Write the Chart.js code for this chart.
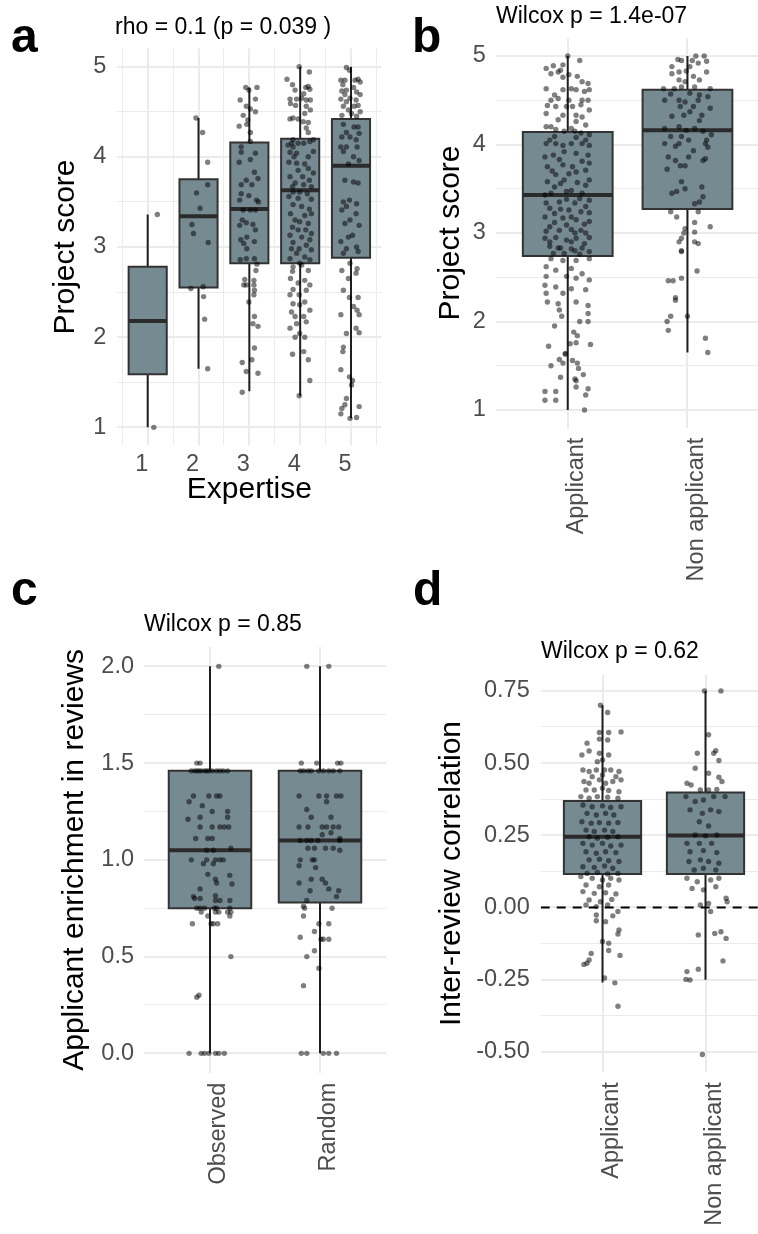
<!DOCTYPE html>
<html>
<head>
<meta charset="utf-8">
<title>Project score panels</title>
<script src="https://cdn.jsdelivr.net/npm/chart.js@4.4.1/dist/chart.umd.min.js"></script>
<style>
  html, body { margin: 0; padding: 0; background: #fff; overflow: hidden; }
  body { position: relative; width: 758px; height: 1234px; font-family: 'Liberation Sans', Arial, sans-serif; }
  canvas { position: absolute; }
  .tag { position: absolute; font-size: 48px; line-height: 48px; font-weight: bold; color: #000; }
  .note { position: absolute; font-size: 23px; line-height: 23px; color: #000; white-space: nowrap; }
</style>
</head>
<body>
<canvas id="panelA" width="390" height="520" style="left:0;top:0"></canvas>
<canvas id="panelB" width="372" height="600" style="left:390px;top:0"></canvas>
<canvas id="panelC" width="390" height="654" style="left:0;top:580px"></canvas>
<canvas id="panelD" width="380" height="654" style="left:390px;top:580px"></canvas>

<div class="tag" style="left:11px;top:12px">a</div>
<div class="tag" style="left:412px;top:12px">b</div>
<div class="tag" style="left:11px;top:565px">c</div>
<div class="tag" style="left:413px;top:565px">d</div>

<div class="note" style="left:115px;top:15px">rho = 0.1 (p = 0.039 )</div>
<div class="note" style="left:496px;top:3.5px">Wilcox p = 1.4e-07</div>
<div class="note" style="left:144px;top:612px">Wilcox p = 0.85</div>
<div class="note" style="left:541px;top:639px">Wilcox p = 0.62</div>

<script>
// ---- panel a : project score by expertise ----
const expertise = [1, 2, 3, 4, 5];
const expertiseLabels = ['1', '2', '3', '4', '5'];
const expertiseMinor = [0.5, 1.5, 2.5, 3.5, 4.5, 5.5];
const scoreTicks = [1, 2, 3, 4, 5];
const scoreTickLabels = ['1', '2', '3', '4', '5'];
const scoreMinor = [1.5, 2.5, 3.5, 4.5];

const aLow = [1.00, 1.65, 1.40, 1.35, 1.10];
const aQ1 = [1.59, 2.55, 2.82, 2.82, 2.88];
const aMedian = [2.18, 3.34, 3.42, 3.63, 3.90];
const aQ3 = [2.78, 3.75, 4.16, 4.20, 4.42];
const aHigh = [3.36, 4.43, 4.77, 5.00, 5.00];

// [jitter, score]
const aPoints = [
  [[0.19,3.36],[0.12,1.00]],
  [[0.08,4.27],[0.18,3.94],[-0.04,3.60],[0.18,3.69],[0.03,3.43],[-0.13,3.25],[-0.10,3.15],[0.19,3.05],[-0.15,2.54],[0.09,2.56],[0.10,2.45],[0.12,2.20],[0.18,1.65],[-0.05,4.43]],
  [[-0.07,4.77],[0.15,4.77],[-0.01,4.74],[-0.18,4.63],[0.12,4.64],[-0.06,4.56],[-0.12,4.46],[0.12,4.50],[0.02,4.53],[-0.03,4.41],[-0.20,4.34],[-0.05,4.36],[0.02,4.27],[0.02,4.17],[-0.16,4.11],[-0.16,4.05],[0.12,4.04],[-0.20,3.94],[0.02,3.97],[0.10,3.83],[-0.06,3.74],[-0.16,3.69],[0.05,3.69],[0.17,3.76],[-0.16,3.59],[-0.19,3.52],[-0.01,3.57],[0.14,3.52],[0.18,3.50],[-0.12,3.41],[0.02,3.41],[0.12,3.41],[-0.14,3.30],[-0.19,3.24],[-0.06,3.27],[0.07,3.25],[0.12,3.19],[-0.17,3.08],[-0.05,3.11],[0.10,3.06],[-0.11,3.04],[-0.05,2.98],[-0.18,2.86],[-0.06,2.87],[0.10,2.87],[0.15,2.81],[0.13,2.74],[-0.09,2.64],[0.09,2.63],[-0.11,2.58],[0.09,2.58],[-0.06,2.58],[0.10,2.52],[0.09,2.47],[-0.01,2.39],[0.10,2.23],[0.07,2.15],[0.17,2.12],[0.10,1.88],[-0.14,1.72],[0.05,1.75],[-0.06,1.62],[0.17,1.60],[-0.14,1.39]],
  [[-0.02,5.00],[0.18,4.94],[-0.26,4.86],[-0.15,4.80],[0.11,4.77],[0.16,4.78],[-0.10,4.74],[0.07,4.70],[0.19,4.75],[-0.20,4.64],[-0.07,4.64],[0.03,4.65],[0.12,4.63],[0.20,4.63],[-0.19,4.59],[-0.09,4.57],[0.12,4.56],[0.09,4.48],[0.20,4.52],[-0.14,4.43],[-0.04,4.42],[-0.20,4.42],[0.06,4.39],[0.16,4.38],[0.12,4.32],[0.16,4.27],[-0.14,4.19],[-0.17,4.15],[-0.04,4.15],[0.07,4.15],[0.19,4.17],[0.26,4.19],[-0.24,4.13],[-0.14,4.11],[-0.20,4.05],[-0.07,4.04],[0.26,4.06],[0.16,4.00],[-0.12,4.00],[-0.22,3.94],[-0.07,3.93],[0.09,3.92],[0.16,3.87],[-0.04,3.85],[0.26,3.82],[-0.20,3.78],[0.05,3.78],[0.18,3.74],[-0.10,3.71],[-0.15,3.67],[0.07,3.69],[0.22,3.67],[-0.14,3.61],[-0.01,3.61],[0.14,3.59],[-0.22,3.56],[-0.04,3.54],[0.22,3.53],[-0.14,3.47],[0.03,3.45],[0.18,3.42],[-0.19,3.37],[0.09,3.35],[0.22,3.37],[-0.10,3.30],[-0.01,3.28],[0.16,3.26],[-0.15,3.22],[-0.04,3.19],[0.11,3.19],[0.22,3.15],[-0.20,3.13],[0.03,3.11],[0.19,3.08],[-0.14,3.05],[0.12,3.02],[-0.02,2.98],[-0.17,2.98],[0.22,2.97],[-0.07,2.93],[0.09,2.89],[-0.20,2.87],[0.19,2.86],[-0.01,2.82],[-0.14,2.78],[0.03,2.80],[-0.15,2.73],[0.16,2.74],[-0.19,2.65],[0.09,2.63],[-0.04,2.60],[0.19,2.58],[-0.14,2.53],[0.12,2.52],[-0.20,2.47],[-0.02,2.47],[-0.14,2.37],[0.09,2.39],[-0.01,2.36],[-0.17,2.28],[0.19,2.30],[-0.10,2.23],[0.07,2.23],[-0.07,2.15],[0.12,2.17],[-0.20,2.10],[-0.01,2.04],[0.09,2.00],[-0.10,2.00],[-0.15,1.81],[0.07,1.84],[0.16,1.75],[0.19,1.52],[-0.02,1.35]],
  [[-0.09,4.99],[-0.03,4.96],[-0.20,4.85],[-0.12,4.85],[0.08,4.85],[0.18,4.83],[0.14,4.86],[-0.16,4.80],[0.05,4.77],[-0.09,4.74],[-0.18,4.73],[0.11,4.72],[-0.12,4.69],[0.18,4.69],[-0.02,4.65],[-0.20,4.64],[0.10,4.63],[-0.09,4.61],[0.14,4.57],[-0.15,4.56],[0.06,4.56],[-0.05,4.52],[0.18,4.50],[0.01,4.48],[-0.18,4.46],[0.11,4.45],[-0.15,4.36],[0.06,4.33],[0.14,4.33],[-0.09,4.27],[0.16,4.26],[-0.18,4.22],[-0.02,4.22],[0.10,4.19],[-0.20,4.11],[-0.09,4.11],[0.12,4.11],[-0.15,4.06],[0.05,4.00],[0.16,3.96],[-0.05,3.92],[-0.12,3.74],[0.05,3.72],[0.14,3.71],[-0.15,3.50],[-0.03,3.52],[0.11,3.48],[-0.09,3.45],[0.10,3.37],[-0.18,3.41],[-0.02,3.30],[-0.12,3.26],[0.16,3.24],[-0.05,3.11],[0.03,3.13],[-0.20,3.06],[0.11,3.00],[-0.09,2.98],[0.14,2.95],[-0.15,2.93],[-0.02,2.82],[0.12,2.76],[-0.18,2.74],[0.10,2.71],[-0.05,2.65],[-0.15,2.52],[-0.03,2.44],[0.14,2.44],[0.05,2.34],[0.12,2.30],[0.16,2.25],[-0.20,2.25],[0.10,2.10],[-0.09,2.04],[0.16,2.05],[-0.15,1.89],[-0.16,1.84],[-0.20,1.64],[-0.03,1.56],[0.03,1.52],[0.01,1.47],[-0.09,1.32],[-0.12,1.25],[-0.18,1.21],[-0.20,1.15],[0.16,1.23],[-0.02,1.10],[0.11,1.11]]
];

// ---- panel b : project score, applicants vs non applicants ----
const groups = [1, 2];
const groupLabels = ['Applicant', 'Non applicant'];
const bLow = [1.00, 1.65];
const bQ1 = [2.74, 3.27];
const bMedian = [3.43, 4.16];
const bQ3 = [4.14, 4.62];
const bHigh = [5.00, 5.00];
const bPoints = [
  [[-0.18,4.86],[-0.12,4.89],[-0.04,4.90],[0.10,4.95],[0,5.00],[-0.08,4.82],[0.01,4.79],[0.08,4.77],[-0.14,4.80],[-0.06,4.84],[-0.04,4.76],[0.17,4.69],[0.12,4.71],[0.18,4.62],[0.03,4.63],[-0.18,4.63],[-0.11,4.56],[-0.08,4.52],[-0.04,4.62],[0.07,4.62],[0.12,4.50],[0.17,4.50],[0.14,4.60],[-0.17,4.44],[-0.10,4.43],[-0.01,4.43],[0.04,4.43],[0.11,4.45],[0.18,4.39],[-0.04,4.33],[0.07,4.33],[0.12,4.31],[0.15,4.22],[-0.18,4.20],[-0.14,4.20],[0.03,4.18],[-0.03,4.15],[0.11,4.13],[0.18,4.11],
   [-0.14,4.50],[0.01,4.50],[-0.18,4.35],[-0.08,4.28],[0.07,4.26],[-0.10,4.17],[0.06,4.15],
   [-0.18,4.01],[-0.10,4.01],[-0.04,3.99],[0.03,4.01],[0.12,4.01],[0.18,3.99],[-0.12,3.88],[-0.03,3.92],[0.07,3.90],[0.17,3.88],[-0.17,3.75],[-0.04,3.77],[0.04,3.75],[0.15,3.71],[-0.10,3.66],[0.01,3.67],[-0.17,3.58],[-0.06,3.56],[0.08,3.57],[0.18,3.60],[-0.14,3.45],[-0.01,3.47],[0.12,3.45],[0.18,3.37],[-0.18,3.34],[-0.07,3.35],[0.06,3.34],[0.15,3.30],[-0.11,3.22],[0.01,3.26],[0.11,3.24],[-0.19,3.18],[-0.04,3.17],[0.07,3.15],[0.18,3.13],[-0.15,3.07],[-0.07,3.03],[0.03,3.04],[0.11,3.03],[-0.19,2.94],[-0.10,2.95],[-0.01,2.92],[0.07,2.94],[0.18,2.95],[-0.15,2.85],[-0.06,2.83],[0.03,2.82],[0.12,2.83],[-0.12,2.77],[-0.03,2.77],[0.10,2.76],[0.18,2.79],
   [-0.15,4.05],[-0.11,4.09],[0.07,4.08],[0.15,4.05],[-0.19,3.86],[-0.07,3.83],[0.12,3.81],[0.18,3.79],[-0.13,3.70],[0.07,3.69],[-0.03,3.60],[0.15,3.54],[-0.11,3.52],[0.03,3.48],[-0.19,3.43],[0.10,3.39],[-0.01,3.38],[-0.15,3.28],[-0.06,3.27],[0.18,3.23],[0.03,3.18],[-0.11,3.12],[0.14,3.10],[-0.01,3.09],[-0.18,3.02],[0.06,3.00],[0.15,3.00],[-0.15,2.90],[0.03,2.90],[0.14,2.88],[-0.08,2.83],[0.06,2.80],
   [-0.14,2.71],[-0.04,2.69],[0.07,2.69],[0.18,2.71],[-0.18,2.62],[0.03,2.60],[-0.10,2.58],[0.12,2.54],[-0.18,2.51],[-0.01,2.51],[0.07,2.49],[0.18,2.47],[-0.19,2.41],[-0.10,2.39],[0.03,2.37],[0.15,2.36],[-0.04,2.32],[-0.18,2.32],
   [-0.17,2.22],[-0.08,2.20],[0.07,2.22],[-0.07,2.13],[0.17,2.18],[0.17,2.09],[-0.05,2.06],[0.17,2.00],[0.10,2.00],[-0.11,1.95],[0.05,1.88],[0.08,1.84],[-0.16,1.72],[0.02,1.75],[0.07,1.76],[0.19,1.74],[-0.02,1.64],[-0.07,1.57],[0.04,1.56],[0.08,1.53],[-0.14,1.50],[-0.04,1.53],[0.09,1.47],[-0.02,1.63],[-0.06,1.37],[0.06,1.35],[0.07,1.33],[0.13,1.40],[0.07,1.26],[-0.19,1.21],[-0.10,1.21],[0.17,1.24],[-0.19,1.11],[-0.10,1.11],[0.15,1.17],[0.14,1.00]],
  [[0.07,5.00],[0.14,5.00],[-0.08,4.96],[-0.05,4.95],[0.04,4.95],[-0.13,4.88],[0.02,4.88],[0.09,4.92],[0.16,4.94],[-0.07,4.82],[-0.01,4.83],[-0.13,4.80],[0.16,4.82],[0.05,4.77],[-0.07,4.73],[-0.02,4.71],[0.10,4.73],[-0.20,4.63],[-0.11,4.63],[-0.05,4.65],[0.06,4.65],[0.19,4.63],[-0.14,4.57],[0.02,4.58],[0.10,4.56],[0.17,4.54],
   [-0.19,4.50],[-0.07,4.50],[-0.02,4.48],[0.09,4.50],[-0.06,4.43],[0.05,4.43],[0.02,4.37],[-0.13,4.32],[-0.03,4.33],[0.12,4.33],[0.19,4.41],[0.10,4.27],[-0.19,4.18],[-0.07,4.20],[-0.01,4.16],[0.06,4.18],[0.13,4.15],[-0.14,4.09],[-0.05,4.09],[0.20,4.11],[0.01,4.05],[0.16,4.05],[-0.19,4.01],[-0.07,4.01],[0.15,4.01],[-0.10,3.98],[0.17,3.97],[0.05,3.93],[-0.16,3.86],[0.01,3.86],[-0.10,3.82],[0.13,3.82],[-0.17,3.72],[-0.06,3.76],[-0.02,3.76],[0.15,3.84],[-0.05,3.58],[0.12,3.52],[-0.13,3.45],[-0.09,3.47],[-0.02,3.50],[0.13,3.41],[0.10,3.35],[0.06,3.33],
   [-0.14,3.24],[0.09,3.24],[-0.09,3.18],[0.06,3.12],[-0.02,3.05],[0.19,3.07],[-0.03,3.00],[0.06,3.01],[-0.05,2.94],[-0.07,2.90],[0.06,2.90],[-0.05,2.79],[0.09,2.88],[-0.05,2.80],[0.08,2.57],[-0.05,2.49],[-0.16,2.46],[-0.12,2.46],[-0.10,2.24],[-0.10,2.27],[-0.14,2.06],[-0.17,2.00],[-0.16,1.90],[0,2.06],[0.15,1.81],[0.17,1.65]]
];

// ---- panel c : applicant enrichment in reviews ----
const samples = [1, 2];
const sampleLabels = ['Observed', 'Random'];
const enrichTicks = [0, 0.5, 1, 1.5, 2];
const enrichTickLabels = ['0.0', '0.5', '1.0', '1.5', '2.0'];
const enrichMinor = [0.25, 0.75, 1.25, 1.75];
const cLow = [0.00, 0.00];
const cQ1 = [0.75, 0.78];
const cMedian = [1.05, 1.10];
const cQ3 = [1.46, 1.46];
const cHigh = [2.00, 2.00];
const cPoints = [
  [[0.08,2.00],[-0.12,1.50],[-0.09,1.50],[-0.17,1.46],[-0.14,1.46],[-0.12,1.46],[-0.10,1.46],[-0.08,1.46],[-0.05,1.46],[-0.03,1.46],[-0.01,1.46],[0.02,1.46],[0.06,1.46],[0.09,1.46],[0.12,1.46],[0.16,1.46],
   [-0.15,1.33],[-0.01,1.33],[0.06,1.33],[0.09,1.33],[-0.19,1.30],[-0.07,1.28],[0.02,1.25],[0.16,1.25],[-0.20,1.21],[-0.09,1.22],[0.16,1.22],[-0.09,1.17],[0.02,1.17],[0.09,1.17],[0.13,1.17],[0.17,1.17],[-0.13,1.11],[-0.02,1.11],[0.02,1.11],[-0.03,1.05],[0.03,1.05],[0.19,1.06],
   [-0.17,1.00],[-0.03,1.00],[0.05,1.00],[0.09,1.00],[0.12,1.00],[-0.06,0.98],[0.03,0.98],[0.18,0.92],[-0.02,0.925],[-0.09,0.85],[0.05,0.90],[0.06,0.88],[0.20,0.875],[-0.15,0.81],[0.05,0.815],[-0.14,0.80],[-0.09,0.80],[0.05,0.79],[0.09,0.79],[0.18,0.79],
   [-0.12,0.75],[-0.09,0.75],[-0.05,0.75],[0.04,0.75],[0.06,0.75],[0.18,0.75],[-0.08,0.73],[0.05,0.73],[0.08,0.73],[0.16,0.73],[0.19,0.73],[-0.02,0.71],[0.18,0.71],[-0.16,0.67],[0.01,0.67],[0.03,0.67],[0.07,0.67],[0.19,0.50],[-0.12,0.29],[-0.10,0.30],
   [-0.19,0],[-0.08,0],[-0.05,0],[-0.01,0],[0.05,0],[0.08,0],[0.13,0]],
  [[-0.12,2.00],[0.08,2.00],[-0.17,1.50],[-0.03,1.50],[0.16,1.50],[0.19,1.50],[-0.18,1.46],[-0.15,1.46],[-0.11,1.46],[-0.08,1.46],[-0.01,1.46],[0.03,1.46],[0.08,1.46],[0.12,1.46],[0.18,1.46],
   [-0.19,1.33],[-0.01,1.33],[0.06,1.33],[0.15,1.33],[0.19,1.33],[0.06,1.30],[-0.12,1.26],[-0.08,1.22],[0.10,1.22],[-0.19,1.17],[-0.11,1.17],[0.02,1.17],[0.06,1.17],[0.12,1.17],[0.17,1.17],[0.02,1.13],[0.10,1.14],[0.18,1.11],
   [-0.18,1.10],[-0.12,1.10],[-0.08,1.10],[-0.02,1.10],[0.18,1.10],[-0.11,1.06],[-0.05,1.06],[0.05,1.06],[0.12,1.06],[0.18,1.05],[-0.18,1.00],[-0.07,1.00],[-0.05,1.00],[-0.19,0.97],[-0.04,0.96],
   [-0.19,0.88],[-0.08,0.90],[0.02,0.90],[0.05,0.88],[-0.09,0.84],[0.08,0.85],[0.17,0.84],[0.15,0.81],[-0.12,0.79],[-0.15,0.76],[-0.14,0.75],[0.11,0.75],
   [-0.15,0.71],[-0.01,0.67],[0.08,0.67],[-0.05,0.63],[-0.18,0.60],[0.01,0.59],[0.03,0.59],[0.08,0.59],[-0.05,0.53],[-0.12,0.50],[-0.01,0.44],[-0.15,0.35],
   [-0.17,0],[-0.12,0],[0.03,0],[0.08,0],[0.15,0]]
];

// ---- panel d : inter-review correlation ----
const corrTicks = [-0.5, -0.25, 0, 0.25, 0.5, 0.75];
const corrTickLabels = ['-0.50', '-0.25', '0.00', '0.25', '0.50', '0.75'];
const corrMinor = [-0.375, -0.125, 0.125, 0.375, 0.625];
const corrReference = 0;
const dLow = [-0.26, -0.25];
const dQ1 = [0.116, 0.116];
const dMedian = [0.245, 0.249];
const dQ3 = [0.369, 0.398];
const dHigh = [0.70, 0.75];
const dPoints = [
  [[-0.02,0.70],[0.05,0.675],[-0.03,0.606],[0.06,0.606],[-0.03,0.583],[0.05,0.58],[0.18,0.608],[-0.15,0.569],[-0.20,0.528],[-0.13,0.542],[-0.03,0.534],[0.06,0.528],[0,0.511],[-0.05,0.505],[-0.19,0.476],[-0.13,0.471],[-0.06,0.476],[0.02,0.476],[0.08,0.476],[0.16,0.471],[-0.10,0.453],[0,0.459],[0.13,0.453],[-0.18,0.436],[-0.13,0.43],[-0.03,0.442],[0.03,0.43],[0.10,0.436],[0.18,0.442],
   [-0.16,0.407],[-0.08,0.407],[0,0.413],[0.06,0.405],[0.16,0.401],[-0.21,0.384],[-0.13,0.378],[-0.05,0.384],[0.05,0.382],[0.15,0.378],[-0.19,0.355],[-0.10,0.349],[0,0.352],[0.08,0.346],[0.18,0.349],[-0.15,0.326],[-0.06,0.32],[0.03,0.326],[0.11,0.32],[-0.20,0.297],[-0.11,0.292],[-0.03,0.294],[0.06,0.292],[0.15,0.294],[-0.16,0.268],[-0.08,0.263],[0.02,0.268],[0.10,0.263],[-0.13,0.245],[-0.05,0.24],[0.05,0.243],[0.15,0.245],[-0.19,0.222],[-0.10,0.216],[0,0.222],[0.08,0.213],[0.18,0.216],[-0.16,0.193],[-0.06,0.188],[0.03,0.193],[0.13,0.19],[-0.13,0.165],[-0.03,0.167],[0.06,0.162],[0.16,0.159],[-0.19,0.141],[-0.08,0.139],[0.02,0.144],[0.10,0.136],[-0.15,0.118],[-0.05,0.121],[0.05,0.116],[0.15,0.118],
   [-0.21,0.107],[-0.10,0.101],[0,0.095],[0.08,0.101],[0.16,0.095],[-0.16,0.078],[-0.03,0.072],[0.06,0.078],[-0.19,0.055],[-0.08,0.049],[0.03,0.051],[0.13,0.047],[-0.13,0.026],[-0.02,0.02],[0.09,0.028],[-0.16,0.009],[-0.06,0.003],[0.05,0.009],
   [-0.06,-0.026],[0.03,-0.049],[0.10,-0.029],[0.15,-0.014],[-0.06,-0.046],[0.16,-0.078],[0.15,-0.092],[0,-0.118],[0.06,-0.124],[0.06,-0.149],[-0.11,-0.159],[-0.13,-0.182],[-0.18,-0.197],[-0.15,-0.193],[0.17,-0.166],[0.02,-0.244],[0.12,-0.261],[0.15,-0.342]],
  [[-0.01,0.75],[0.15,0.75],[0.03,0.598],[-0.08,0.534],[0.08,0.534],[0.10,0.543],[0.13,0.509],[-0.10,0.482],[0.03,0.465],[0.13,0.451],[-0.18,0.43],[-0.14,0.424],[-0.05,0.407],[0.03,0.407],[0.11,0.409],[0.16,0.436],
   [-0.19,0.384],[-0.10,0.367],[-0.02,0.372],[0.08,0.384],[0.19,0.384],[-0.15,0.338],[-0.03,0.326],[0.05,0.338],[0.13,0.332],[-0.06,0.297],[0.03,0.282],[-0.10,0.251],[0,0.248],[0.11,0.251],[-0.18,0.222],[-0.06,0.222],[0.06,0.222],[-0.15,0.193],[-0.02,0.197],[0.11,0.19],[-0.16,0.159],[-0.05,0.165],[0.03,0.159],[0.13,0.153],[-0.11,0.13],[-0.02,0.136],[0.10,0.13],
   [-0.18,0.101],[-0.08,0.089],[0.05,0.095],[0.13,0.101],[-0.13,0.066],[-0.02,0.061],[0.10,0.072],[0.20,0.032],[0.21,0.02],[0.03,0.014],[-0.05,0.009],
   [0.05,-0.014],[-0.07,-0.095],[0.09,-0.09],[0.15,-0.084],[0.20,-0.107],[0.17,-0.185],[-0.07,-0.214],[-0.18,-0.222],[-0.19,-0.249],[-0.15,-0.251],[-0.03,-0.509]]
];

// ---- styling ----
Chart.defaults.font.family = "'Liberation Sans', Arial, sans-serif";
const TICK_COLOR = '#4d4d4d';
const TICK_SIZE = 23.5;
const GRID_COLOR = '#ebebeb';
const BOX_FILL = '#768a92';
const BOX_LINE = '#333333';
const MEDIAN_LINE = '#2b2b2b';
const WHISKER = '#1f1f1f';
const DOT = 'rgba(0,0,0,0.5)';
const BOX_HALF = 0.375;

const labelFor = (values, labels, v) => {
  const k = values.findIndex(t => Math.abs(t - v) < 1e-9);
  return k < 0 ? '' : labels[k];
};

function axis(o) {
  const all = o.major.concat(o.minor).sort((p, q) => p - q);
  return {
    type: 'linear',
    min: o.min,
    max: o.max,
    afterBuildTicks: s => { s.ticks = all.map(v => ({ value: v })); },
    afterFit: s => { if (o.width) s.width = o.width; if (o.height) s.height = o.height; },
    ticks: {
      color: TICK_COLOR,
      font: { size: TICK_SIZE },
      padding: o.pad,
      autoSkip: false,
      maxRotation: o.rot || 0,
      minRotation: o.rot || 0,
      labelOffset: o.offset || 0,
      callback: v => labelFor(o.major, o.labels, v)
    },
    grid: {
      color: GRID_COLOR,
      drawTicks: false,
      lineWidth: c => (c.tick && labelFor(o.major, o.labels, c.tick.value) === '' ? 1 : 2)
    },
    border: { display: false },
    title: o.title ? {
      display: true, text: o.title, color: '#000', font: { size: 30 },
      padding: o.height ? { top: 0, bottom: o.tpad } : { top: o.tpad, bottom: 0 }
    } : { display: false }
  };
}

function boxPanel(id, s) {
  const datasets = [];
  s.cats.forEach((c, i) => {
    const l = c - BOX_HALF, r = c + BOX_HALF;
    datasets.push({ type: 'line', data: [{ x: c, y: s.lo[i] }, { x: c, y: s.hi[i] }],
      borderColor: WHISKER, borderWidth: 2, pointRadius: 0, fill: false, order: 4 });
    datasets.push({ type: 'line',
      data: [{ x: l, y: s.q1[i] }, { x: r, y: s.q1[i] }, { x: r, y: s.q3[i] }, { x: l, y: s.q3[i] }, { x: l, y: s.q1[i] }],
      borderColor: BOX_LINE, borderWidth: 2, borderCapStyle: 'square', backgroundColor: BOX_FILL,
      fill: 'shape', pointRadius: 0, order: 3 });
    datasets.push({ type: 'line', data: [{ x: l, y: s.med[i] }, { x: r, y: s.med[i] }],
      borderColor: MEDIAN_LINE, borderWidth: 4, pointRadius: 0, fill: false, order: 2 });
  });
  const dots = [];
  s.pts.forEach((g, i) => g.forEach(([dx, y]) => dots.push({ x: s.cats[i] + dx, y })));
  datasets.push({ type: 'scatter', data: dots, pointRadius: 2.7, pointHoverRadius: 2.7,
    pointBackgroundColor: DOT, pointBorderWidth: 0, order: 1 });
  if (s.extra) datasets.push(s.extra);

  return new Chart(document.getElementById(id), {
    type: 'scatter',
    data: { datasets },
    options: {
      responsive: false,
      animation: false,
      devicePixelRatio: 1,
      events: [],
      elements: { line: { tension: 0 } },
      layout: { padding: s.padding },
      plugins: { legend: { display: false }, tooltip: { enabled: false } },
      scales: { x: s.x, y: s.y }
    }
  });
}

boxPanel('panelA', {
  cats: expertise, lo: aLow, q1: aQ1, med: aMedian, q3: aQ3, hi: aHigh, pts: aPoints,
  padding: { left: 0, top: 48.6, right: 8.5, bottom: 0 },
  x: axis({ min: 0.4, max: 5.6, major: expertise, labels: expertiseLabels, minor: expertiseMinor,
            height: 74.6, pad: 5.5, offset: -6, title: 'Expertise', tpad: 12 }),
  y: axis({ min: 0.8, max: 5.2, major: scoreTicks, labels: scoreTickLabels, minor: scoreMinor,
            width: 117.2, pad: 11, title: 'Project score', tpad: 48 })
});

boxPanel('panelB', {
  cats: groups, lo: bLow, q1: bQ1, med: bMedian, q3: bQ3, hi: bHigh, pts: bPoints,
  padding: { left: 0, top: 38.3, right: 0.6, bottom: 0 },
  x: axis({ min: 0.4, max: 2.6, major: groups, labels: groupLabels, minor: [],
            height: 172.3, pad: 10, rot: 90, offset: 9 }),
  y: axis({ min: 0.8, max: 5.2, major: scoreTicks, labels: scoreTickLabels, minor: scoreMinor,
            width: 105.9, pad: 10, title: 'Project score', tpad: 43 })
});

boxPanel('panelC', {
  cats: samples, lo: cLow, q1: cQ1, med: cMedian, q3: cQ3, hi: cHigh, pts: cPoints,
  padding: { left: 0, top: 67, right: 4, bottom: 0 },
  x: axis({ min: 0.4, max: 2.6, major: samples, labels: sampleLabels, minor: [],
            height: 161.3, pad: 10, rot: 90, offset: 9 }),
  y: axis({ min: -0.1, max: 2.1, major: enrichTicks, labels: enrichTickLabels, minor: enrichMinor,
            width: 144, pad: 10, title: 'Applicant enrichment in reviews', tpad: 57 })
});

boxPanel('panelD', {
  cats: groups, lo: dLow, q1: dQ1, med: dMedian, q3: dQ3, hi: dHigh, pts: dPoints,
  padding: { left: 0, top: 95, right: 1.3, bottom: 0 },
  extra: { type: 'line', data: [{ x: 0.4, y: corrReference }, { x: 2.6, y: corrReference }],
           borderColor: '#000', borderWidth: 2, borderDash: [9, 7], pointRadius: 0, fill: false, order: 0 },
  x: axis({ min: 0.4, max: 2.6, major: groups, labels: groupLabels, minor: [],
            height: 161.9, pad: 10, rot: 90, offset: 9 }),
  y: axis({ min: -0.57, max: 0.805, major: corrTicks, labels: corrTickLabels, minor: corrMinor,
            width: 150.7, pad: 11, title: 'Inter-review correlation', tpad: 44 })
});
</script>
</body>
</html>
